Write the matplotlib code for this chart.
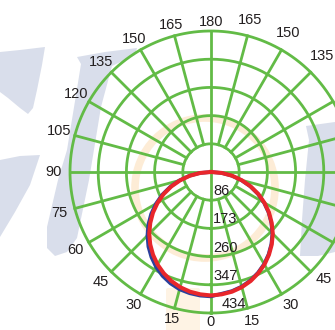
import numpy as np
import matplotlib.pyplot as plt
from matplotlib.patches import Polygon, Circle, FancyBboxPatch

# luminous intensity (cd) per angle
angles = [0, 5, 10, 15, 20, 25, 30, 35, 40, 45, 50, 55, 60, 65, 70, 75, 80, 85, 90]
c0_c180 = [380, 378, 374, 367, 357, 344, 329, 311, 291, 269, 244, 218, 190, 161, 130, 98, 66, 33, 0]
c90_left = [383, 382, 379, 374, 365, 353, 338, 320, 300, 277, 252, 225, 196, 166, 134, 101, 68, 34, 0]
c90_right = [378, 376, 372, 365, 355, 342, 327, 309, 289, 267, 242, 216, 188, 159, 128, 96, 64, 32, 0]

ring_values = [86.8, 173.6, 260.4, 347.2, 434]
ring_labels = ["86", "173", "260", "347", "434"]
angle_ticks = [0, 15, 30, 45, 60, 75, 90, 105, 120, 135, 150, 165, 180]

green = "#62bb46"
plt.rcParams['font.family'] = ['Liberation Sans', 'DejaVu Sans']

fig = plt.figure(figsize=(3.35, 3.30), dpi=100)

# faint logo watermark behind the diagram (pixel coordinates)
bg = fig.add_axes([0, 0, 1, 1], zorder=-1)
bg.set_xlim(0, 335)
bg.set_ylim(330, 0)
bg.axis("off")
wm = "#d9deeb"
bg.add_patch(Polygon([(0, 52), (20, 50), (45, 47), (42, 65), (37, 90), (33, 108),
                      (28, 114), (20, 108), (8, 98), (0, 92)], color=wm, lw=0))
bg.add_patch(Polygon([(0, 160), (20, 156), (40, 155), (30, 185), (15, 212), (0, 237)],
                     color=wm, lw=0))
bg.add_patch(Polygon([(77, 57), (105, 52), (137, 48), (135, 55), (112, 66), (101, 107),
                      (89, 180), (77, 238), (67, 252), (55, 256), (47, 248), (47, 227),
                      (58, 180), (67, 150), (76, 95), (81, 64)], color=wm, lw=0))
bg.add_patch(Polygon([(306, 126), (335, 122), (335, 252), (318, 256), (300, 256),
                      (302, 220), (305, 180), (309, 140)], color=wm, lw=0))
bg.add_patch(Circle((205, 188), 70, fill=False, lw=5.5, color="#fdecd6"))
bg.add_patch(FancyBboxPatch((168, 290), 30, 40, boxstyle="round,pad=2",
                            color="#fef3e4", lw=0))

ax = fig.add_axes([70 / 335, 17 / 330, 282 / 335, 282 / 330], projection="polar")
ax.patch.set_alpha(0)
ax.set_theta_zero_location("S")
ax.set_ylim(0, 434)
ax.grid(False)
ax.set_xticks([])
ax.set_yticks([])
ax.spines["polar"].set_visible(False)

full = np.linspace(0, 2 * np.pi, 361)
for r in ring_values:
    ax.plot(full, [r] * len(full), color=green, lw=2.0, clip_on=False)
for a in range(0, 360, 15):
    r0 = 0 if a % 90 == 0 else ring_values[0]
    ax.plot([np.deg2rad(a)] * 2, [r0, ring_values[-1]], color=green, lw=2.0, clip_on=False)

ang = np.array(angles)
theta = np.deg2rad(np.concatenate([-ang[::-1], ang[1:]]))
blue_r = np.concatenate([np.array(c90_left)[::-1], np.array(c90_right)[1:]])
red_r = np.concatenate([np.array(c0_c180)[::-1], np.array(c0_c180)[1:]])
ax.plot(theta, blue_r, color="#2b3f9c", lw=2.6, clip_on=False)
ax.plot(theta, red_r, color="#e8262b", lw=2.9, clip_on=False)

# angle labels around the outer ring (434 units = 141 px)
px = 434 / 141
for a in angle_ticks:
    s = abs(np.sin(np.deg2rad(a)))
    if a in (0, 180):
        ax.text(np.deg2rad(a), 150 * px, str(a), fontsize=10.5, color="#231f20",
                ha="center", va="center", clip_on=False)
        continue
    ax.text(np.deg2rad(-a), (151 + 6 * s) * px, str(a), fontsize=10.5, color="#231f20",
            ha="center", va="center", clip_on=False)
    r_right = 155 + (8 * s if a > 90 else 0)
    ax.text(np.deg2rad(a + 2 * s), r_right * px, str(a), fontsize=10.5,
            color="#231f20", ha="center", va="center", clip_on=False)

for i, (r, lab) in enumerate(zip(ring_values, ring_labels)):
    dx = 11 if i == len(ring_values) - 1 else 2
    ax.annotate(lab, xy=(0, r), xytext=(dx, 9), textcoords="offset pixels",
                fontsize=10.5, color="#231f20", ha="left", va="center")

fig.savefig("out.png", dpi=100)
